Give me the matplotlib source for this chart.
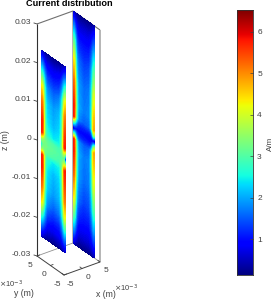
import numpy as np
import matplotlib
matplotlib.use('Agg')
import matplotlib.pyplot as plt

plt.rcParams['font.family'] = ['Liberation Sans', 'DejaVu Sans']

# across-plate position, fraction of the plate width
across = [0.0, 0.04, 0.08, 0.12, 0.17, 0.24, 0.5, 0.76, 0.83, 0.88, 0.92, 0.96, 1.0]

# front plate at x = -5 mm
front_z = [24, 21, 18, 15, 11, 6, 3, 1.5, 0, -1.5, -3, -6, -11, -15, -18, -21, -24]
front_j = [
    [0.5, 0.45, 0.4, 0.3, 0.25, 0.2, 0.15, 0.2, 0.25, 0.3, 0.35, 0.4, 0.5],
    [1.7, 1.6, 1.4, 1.2, 1.0, 0.8, 0.7, 0.8, 0.9, 1.1, 1.3, 1.5, 1.6],
    [3.0, 2.8, 2.5, 2.1, 1.7, 1.3, 1.1, 1.2, 1.5, 1.8, 2.2, 2.6, 2.9],
    [4.3, 4.1, 3.6, 2.9, 2.2, 1.8, 1.5, 1.7, 2.1, 2.6, 3.2, 3.9, 4.2],
    [5.2, 5.0, 4.4, 3.4, 2.6, 2.2, 1.9, 2.1, 2.5, 3.1, 3.9, 4.8, 5.1],
    [5.8, 5.6, 4.9, 3.7, 2.8, 2.4, 2.1, 2.3, 2.7, 3.3, 4.3, 5.2, 5.6],
    [5.8, 5.5, 4.8, 3.7, 3.0, 2.7, 2.4, 2.5, 2.9, 3.5, 4.4, 5.4, 5.8],
    [3.6, 3.6, 3.5, 3.3, 3.2, 3.1, 3.0, 2.9, 3.1, 3.3, 3.7, 4.0, 3.7],
    [2.4, 2.8, 3.2, 3.3, 3.3, 3.2, 3.1, 3.0, 3.0, 3.1, 3.1, 2.8, 1.0],
    [3.6, 3.6, 3.5, 3.3, 3.2, 3.1, 3.0, 2.9, 3.1, 3.3, 3.7, 4.0, 3.7],
    [5.8, 5.5, 4.8, 3.7, 3.0, 2.7, 2.4, 2.5, 2.9, 3.5, 4.4, 5.4, 5.8],
    [5.8, 5.6, 4.9, 3.7, 2.8, 2.4, 2.1, 2.3, 2.7, 3.3, 4.3, 5.2, 5.6],
    [5.2, 5.0, 4.4, 3.4, 2.6, 2.2, 1.9, 2.1, 2.5, 3.1, 3.9, 4.8, 5.1],
    [4.3, 4.1, 3.6, 2.9, 2.2, 1.8, 1.5, 1.7, 2.1, 2.6, 3.2, 3.9, 4.2],
    [3.0, 2.8, 2.5, 2.1, 1.7, 1.3, 1.1, 1.2, 1.5, 1.8, 2.2, 2.6, 2.9],
    [1.7, 1.6, 1.4, 1.2, 1.0, 0.8, 0.7, 0.8, 0.9, 1.1, 1.3, 1.5, 1.6],
    [0.5, 0.45, 0.4, 0.3, 0.25, 0.2, 0.15, 0.2, 0.25, 0.3, 0.35, 0.4, 0.5],
]

# back plate at x = 5 mm
back_z = [30, 27, 23, 18, 12, 6, 3, 1.5, 0, -1.5, -3, -6, -12, -18, -23, -27, -30]
back_j = [
    [0.5, 0.4, 0.3, 0.25, 0.2, 0.15, 0.15, 0.15, 0.2, 0.2, 0.25, 0.3, 0.35],
    [1.6, 1.5, 1.2, 1.0, 0.8, 0.6, 0.6, 0.6, 0.7, 0.8, 0.9, 1.0, 1.1],
    [3.0, 2.8, 2.4, 1.9, 1.4, 1.1, 1.0, 1.0, 1.2, 1.4, 1.6, 1.9, 2.0],
    [4.3, 4.1, 3.5, 2.7, 2.0, 1.6, 1.3, 1.4, 1.7, 2.0, 2.4, 2.8, 3.0],
    [5.3, 5.1, 4.4, 3.3, 2.5, 1.9, 1.6, 1.7, 2.1, 2.5, 3.2, 3.8, 4.0],
    [5.8, 5.6, 4.8, 3.5, 2.7, 2.0, 1.7, 1.8, 2.2, 2.8, 3.7, 4.5, 4.6],
    [5.8, 5.5, 4.6, 3.3, 2.5, 1.8, 1.5, 1.6, 2.0, 2.7, 3.7, 4.6, 4.8],
    [3.0, 2.8, 2.4, 1.9, 1.5, 1.2, 1.1, 1.1, 1.2, 1.5, 2.1, 3.0, 3.4],
    [0.1, 0.6, 0.8, 0.9, 0.9, 0.9, 0.9, 0.8, 0.7, 0.7, 0.7, 0.6, 0.2],
    [3.0, 2.8, 2.4, 1.9, 1.5, 1.2, 1.1, 1.1, 1.2, 1.5, 2.1, 3.0, 3.4],
    [5.8, 5.5, 4.6, 3.3, 2.5, 1.8, 1.5, 1.6, 2.0, 2.7, 3.7, 4.6, 4.8],
    [5.8, 5.6, 4.8, 3.5, 2.7, 2.0, 1.7, 1.8, 2.2, 2.8, 3.7, 4.5, 4.6],
    [5.3, 5.1, 4.4, 3.3, 2.5, 1.9, 1.6, 1.7, 2.1, 2.5, 3.2, 3.8, 4.0],
    [4.3, 4.1, 3.5, 2.7, 2.0, 1.6, 1.3, 1.4, 1.7, 2.0, 2.4, 2.8, 3.0],
    [3.0, 2.8, 2.4, 1.9, 1.4, 1.1, 1.0, 1.0, 1.2, 1.4, 1.6, 1.9, 2.0],
    [1.6, 1.5, 1.2, 1.0, 0.8, 0.6, 0.6, 0.6, 0.7, 0.8, 0.9, 1.0, 1.1],
    [0.5, 0.4, 0.3, 0.25, 0.2, 0.15, 0.15, 0.15, 0.2, 0.2, 0.25, 0.3, 0.35],
]

z_ticks = [-30, -20, -10, 0, 10, 20, 30]
z_labels = ['-0.03', '-0.02', '-0.01', '0', '0.01', '0.02', '0.03']
xy_ticks = [-5, 0, 5]
cbar_ticks = [1, 2, 3, 4, 5, 6]
vmin, vmax = 0.14, 6.53


def project(x, y, z):
    # fixed view of the box, x y z in mm, result in figure pixels
    x, y, z = np.asarray(x, float), np.asarray(y, float), np.asarray(z, float)
    px = 37 + 3.6 * (x + 5) + 2.7 * (5 - y)
    py = 256 - 1.3 * (x + 5) + 1.9 * (5 - y) - 3.867 * (z + 30)
    return px, py


def draw_plate(ax, x, y0, y1, z, j):
    y = y0 + (y1 - y0) * np.array(across)
    yy, zz = np.meshgrid(y, z)
    px, py = project(np.full(yy.shape, x), yy, zz)
    levels = np.linspace(vmin, vmax, 128)
    ax.contourf(px, py, np.array(j), levels=levels, cmap='jet', vmin=vmin, vmax=vmax,
                extend='both', zorder=3)


def edge(ax, a, b, color, lw):
    px, py = project(*zip(a, b))
    ax.plot(px, py, color=color, lw=lw, solid_capstyle='butt', zorder=2)


fig = plt.figure(figsize=(2.74, 3.0), dpi=100)
ax = fig.add_axes([0, 0, 1, 1])

# box walls and floor
edge(ax, (5, 5, -30), (5, 5, 30), '#b0b0b0', 1.3)
edge(ax, (5, 5, 30), (5, -5, 30), '#707070', 0.8)
edge(ax, (5, -5, -30), (5, -5, 30), '#b0b0b0', 1.3)
edge(ax, (-5, 5, 30), (5, 5, 30), '#707070', 0.8)
edge(ax, (-5, 5, -30), (5, 5, -30), '#909090', 0.6)
edge(ax, (5, 5, -30), (5, -5, -30), '#909090', 0.6)
edge(ax, (-5, 5, -30), (-5, -5, -30), '#404040', 0.7)
edge(ax, (-5, -5, -30), (5, -5, -30), '#404040', 0.7)
edge(ax, (-5, 5, -30), (-5, 5, 30), '#303030', 0.8)

draw_plate(ax, -5, 3.3, -5.4, front_z, front_j)
draw_plate(ax, 5, 4.8, -2.8, back_z, back_j)

# z ticks
for z, lab in zip(z_ticks, z_labels):
    px, py = project(-5, 5, z)
    ax.plot([px - 3, px], [py - 1, py], color='#404040', lw=0.6, zorder=2)
    ax.text(px - 6, py - 1.5, lab, ha='right', va='center', fontsize=6, color='#404040')

# y and x ticks on the floor
for y in xy_ticks:
    px, py = project(-5, y, -30)
    ax.plot([px, px + 2.5], [py, py - 1], color='#404040', lw=0.6, zorder=2)
    ax.text(px - 7, py + 9.5, str(y), ha='center', va='center', fontsize=6, color='#404040')
for x in xy_ticks:
    px, py = project(x, -5, -30)
    ax.plot([px, px - 2], [py, py - 1.5], color='#404040', lw=0.6, zorder=2)
    ax.text(px + 6.5, py + 9, str(x), ha='center', va='center', fontsize=6, color='#404040')

ax.text(69, 3.5, 'Current distribution', ha='center', va='center', fontsize=6.6,
        fontweight='bold', color='black')
ax.text(6, 140, 'z (m)', rotation=90, ha='center', va='center', fontsize=6.2, color='#404040')
ax.text(24, 294, 'y (m)', ha='center', va='center', fontsize=6.2, color='#404040')
ax.text(106, 294.5, 'x (m)', ha='center', va='center', fontsize=6.2, color='#404040')
ax.text(11, 284, r'$\times$10$^{-3}$', ha='center', va='center', fontsize=5.4, color='#404040')
ax.text(126, 288, r'$\times$10$^{-3}$', ha='center', va='center', fontsize=5.4, color='#404040')

# colour bar
cax = fig.add_axes([237 / 274, 1 - 275 / 300, 16 / 274, 265 / 300])
grad = np.linspace(vmin, vmax, 256).reshape(-1, 1)
cax.imshow(grad, cmap='jet', vmin=vmin, vmax=vmax, aspect='auto', origin='lower',
           extent=[0, 1, vmin, vmax])
cax.set_xticks([])
cax.yaxis.tick_right()
cax.set_yticks(cbar_ticks)
cax.tick_params(axis='y', direction='in', length=2, width=0.5, color='#404040',
                labelsize=6, labelcolor='#404040', pad=3)
for s in cax.spines.values():
    s.set_linewidth(0.6)
    s.set_color('#303030')
ax.text(270, 144, 'A/m', rotation=90, ha='center', va='center', fontsize=5.8, color='#404040')

ax.set_xlim(0, 274)
ax.set_ylim(300, 0)
ax.axis('off')

plt.savefig('out.png', dpi=100)
